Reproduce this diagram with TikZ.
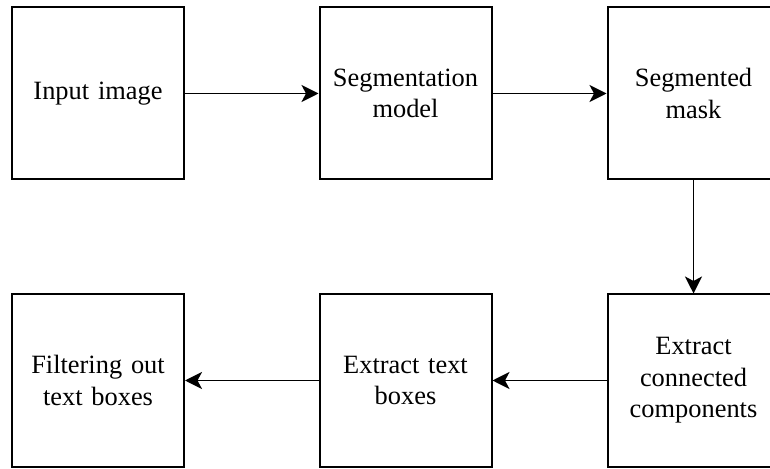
\documentclass[tikz,border=0pt]{standalone}
\usepackage{fontspec}
\setmainfont{Liberation Serif}
\usetikzlibrary{arrows.meta}
\begin{document}
\begin{tikzpicture}[x=1pt,y=1pt,
  stage/.style={draw=black, line width=2pt, fill=white,
    minimum width=172pt, minimum height=172pt, inner sep=0pt,
    text width=165pt, align=center,
    font=\fontsize{26.4}{31.5}\selectfont},
  flow/.style={line width=1.7pt,
    -{Stealth[length=17pt,width=17pt,inset=4.5pt]}}]
\useasboundingbox (0,0) rectangle (770,468);
% upper row
\node[stage] (input) at (98,374.5) {Input image};
\node[stage] (segmodel) at (405.5,374.5) {Segmentation\\model};
\node[stage] (mask) at (693.5,374.5) {Segmented\\mask};
% lower row
\node[stage] (components) at (693.5,87.5) {Extract\\connected\\components};
\node[stage] (boxes) at (405.5,87.5) {Extract text\\boxes};
\node[stage] (filter) at (98,87.5) {Filtering out\\text boxes};
% connectors
\draw[flow] (input) -- (segmodel);
\draw[flow] (segmodel) -- (mask);
\draw[flow] (mask) -- (components);
\draw[flow] (components) -- (boxes);
\draw[flow] (boxes) -- (filter);
\end{tikzpicture}
\end{document}
